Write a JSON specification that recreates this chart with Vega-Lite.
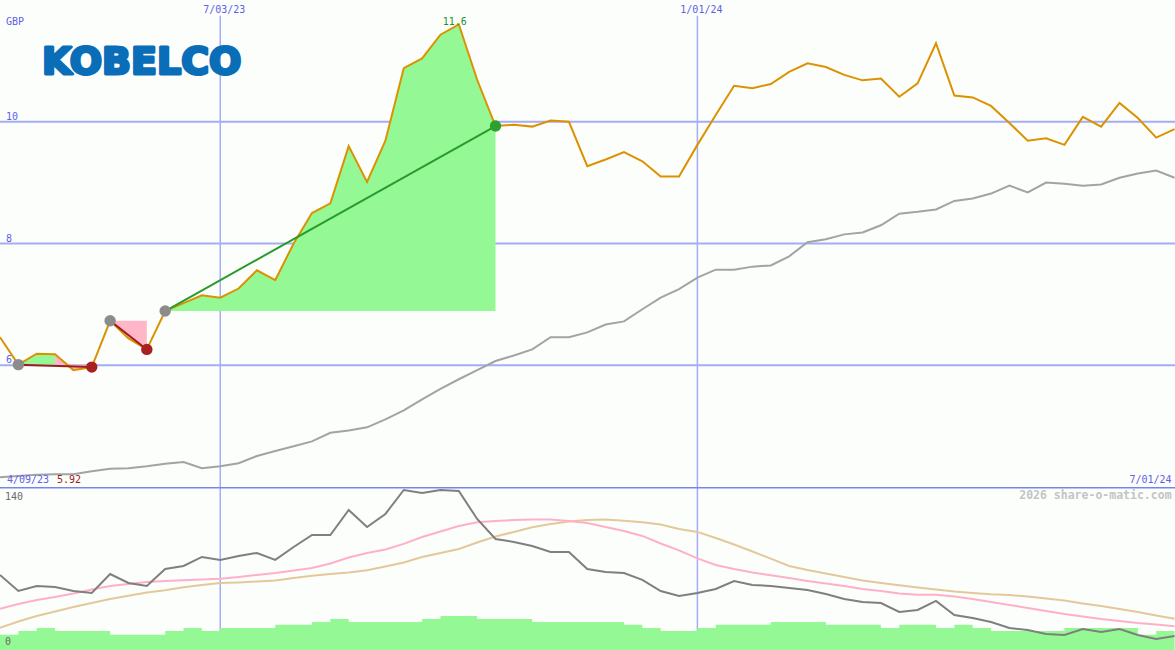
{
  "$schema": "https://vega.github.io/schema/vega-lite/v6.json",
  "background": "#fcfefc",
  "padding": 0,
  "spacing": 0,
  "config": {"view": {"stroke": null}, "text": {"font": "DejaVu Sans Mono", "fontSize": 10}},
  "datasets": {
    "weekly": [
      {"d":"2023-04-10","price":6.46,"ma":4.16,"osc":65.6,"pk":36.1,"tn":19.5,"vol":13.4},
      {"d":"2023-04-17","price":6.01,"ma":4.18,"osc":51.6,"pk":40.3,"tn":24.9,"vol":16.6},
      {"d":"2023-04-24","price":6.19,"ma":4.20,"osc":56.0,"pk":43.8,"tn":29.8,"vol":19.3},
      {"d":"2023-05-01","price":6.18,"ma":4.21,"osc":55.1,"pk":46.4,"tn":33.7,"vol":16.6},
      {"d":"2023-05-08","price":5.92,"ma":4.21,"osc":51.6,"pk":49.4,"tn":37.6,"vol":16.6},
      {"d":"2023-05-15","price":5.97,"ma":4.26,"osc":49.9,"pk":52.9,"tn":41.1,"vol":16.6},
      {"d":"2023-05-22","price":6.73,"ma":4.30,"osc":66.5,"pk":56.0,"tn":44.6,"vol":13.4},
      {"d":"2023-05-29","price":6.44,"ma":4.31,"osc":58.6,"pk":57.8,"tn":47.5,"vol":13.4},
      {"d":"2023-06-05","price":6.26,"ma":4.34,"osc":56.0,"pk":59.5,"tn":50.3,"vol":13.4},
      {"d":"2023-06-12","price":6.89,"ma":4.38,"osc":70.9,"pk":60.4,"tn":52.2,"vol":16.6},
      {"d":"2023-06-19","price":7.02,"ma":4.41,"osc":73.5,"pk":61.0,"tn":54.9,"vol":19.3},
      {"d":"2023-06-26","price":7.15,"ma":4.31,"osc":81.4,"pk":61.7,"tn":56.9,"vol":16.6},
      {"d":"2023-07-03","price":7.11,"ma":4.34,"osc":78.8,"pk":62.4,"tn":58.6,"vol":19.3},
      {"d":"2023-07-10","price":7.26,"ma":4.39,"osc":82.3,"pk":63.9,"tn":59.1,"vol":19.3},
      {"d":"2023-07-17","price":7.56,"ma":4.51,"osc":84.9,"pk":65.6,"tn":59.9,"vol":19.3},
      {"d":"2023-07-24","price":7.40,"ma":4.59,"osc":78.8,"pk":67.4,"tn":60.8,"vol":22.1},
      {"d":"2023-07-31","price":8.00,"ma":4.67,"osc":90.1,"pk":69.6,"tn":63.0,"vol":22.1},
      {"d":"2023-08-07","price":8.50,"ma":4.75,"osc":100.6,"pk":71.8,"tn":64.9,"vol":24.5},
      {"d":"2023-08-14","price":8.66,"ma":4.89,"osc":100.6,"pk":75.7,"tn":66.5,"vol":27.1},
      {"d":"2023-08-21","price":9.60,"ma":4.93,"osc":122.5,"pk":80.9,"tn":67.8,"vol":24.5},
      {"d":"2023-08-28","price":9.01,"ma":4.98,"osc":107.6,"pk":84.9,"tn":69.7,"vol":24.5},
      {"d":"2023-09-04","price":9.69,"ma":5.11,"osc":119.0,"pk":87.9,"tn":73.1,"vol":24.5},
      {"d":"2023-09-11","price":10.88,"ma":5.26,"osc":140.0,"pk":92.8,"tn":76.6,"vol":24.5},
      {"d":"2023-09-18","price":11.04,"ma":5.44,"osc":137.4,"pk":98.9,"tn":81.4,"vol":27.1},
      {"d":"2023-09-25","price":11.43,"ma":5.61,"osc":140.0,"pk":103.7,"tn":84.9,"vol":29.8},
      {"d":"2023-10-02","price":11.60,"ma":5.77,"osc":139.1,"pk":108.5,"tn":88.4,"vol":29.8},
      {"d":"2023-10-09","price":10.69,"ma":5.92,"osc":114.6,"pk":111.7,"tn":94.1,"vol":27.1},
      {"d":"2023-10-16","price":9.93,"ma":6.07,"osc":97.1,"pk":112.9,"tn":99.3,"vol":27.1},
      {"d":"2023-10-23","price":9.95,"ma":6.16,"osc":94.5,"pk":113.8,"tn":103.3,"vol":27.1},
      {"d":"2023-10-30","price":9.92,"ma":6.26,"osc":91.0,"pk":114.2,"tn":107.4,"vol":24.5},
      {"d":"2023-11-06","price":10.02,"ma":6.46,"osc":85.8,"pk":114.2,"tn":110.3,"vol":24.5},
      {"d":"2023-11-13","price":10.00,"ma":6.46,"osc":85.8,"pk":112.9,"tn":112.4,"vol":24.5},
      {"d":"2023-11-20","price":9.27,"ma":6.54,"osc":70.9,"pk":111.1,"tn":113.8,"vol":24.5},
      {"d":"2023-11-27","price":9.38,"ma":6.67,"osc":68.3,"pk":107.6,"tn":114.2,"vol":24.5},
      {"d":"2023-12-04","price":9.50,"ma":6.72,"osc":67.4,"pk":104.1,"tn":113.1,"vol":22.1},
      {"d":"2023-12-11","price":9.35,"ma":6.92,"osc":61.3,"pk":99.8,"tn":111.7,"vol":19.3},
      {"d":"2023-12-18","price":9.10,"ma":7.11,"osc":51.6,"pk":93.2,"tn":109.8,"vol":16.6},
      {"d":"2023-12-25","price":9.10,"ma":7.25,"osc":47.3,"pk":87.1,"tn":105.9,"vol":16.6},
      {"d":"2024-01-01","price":9.62,"ma":7.44,"osc":49.9,"pk":80.1,"tn":103.3,"vol":19.3},
      {"d":"2024-01-08","price":10.11,"ma":7.57,"osc":53.4,"pk":74.4,"tn":98.0,"vol":22.1},
      {"d":"2024-01-15","price":10.59,"ma":7.57,"osc":60.4,"pk":70.9,"tn":92.3,"vol":22.1},
      {"d":"2024-01-22","price":10.55,"ma":7.62,"osc":56.9,"pk":67.8,"tn":86.2,"vol":22.1},
      {"d":"2024-01-29","price":10.62,"ma":7.64,"osc":56.0,"pk":65.4,"tn":79.9,"vol":24.5},
      {"d":"2024-02-05","price":10.82,"ma":7.79,"osc":54.3,"pk":63.0,"tn":73.5,"vol":24.5},
      {"d":"2024-02-12","price":10.96,"ma":8.02,"osc":52.5,"pk":60.4,"tn":70.0,"vol":24.5},
      {"d":"2024-02-19","price":10.90,"ma":8.07,"osc":49.0,"pk":58.2,"tn":66.9,"vol":22.1},
      {"d":"2024-02-26","price":10.77,"ma":8.15,"osc":44.6,"pk":56.0,"tn":63.9,"vol":22.1},
      {"d":"2024-03-04","price":10.68,"ma":8.18,"osc":42.0,"pk":53.4,"tn":60.8,"vol":22.1},
      {"d":"2024-03-11","price":10.71,"ma":8.30,"osc":41.1,"pk":51.6,"tn":58.6,"vol":19.3},
      {"d":"2024-03-18","price":10.41,"ma":8.49,"osc":33.3,"pk":49.4,"tn":56.6,"vol":22.1},
      {"d":"2024-03-25","price":10.63,"ma":8.52,"osc":35.0,"pk":48.4,"tn":54.7,"vol":22.1},
      {"d":"2024-04-01","price":11.29,"ma":8.56,"osc":42.9,"pk":48.4,"tn":52.9,"vol":19.3},
      {"d":"2024-04-08","price":10.43,"ma":8.70,"osc":30.6,"pk":46.8,"tn":51.2,"vol":22.1},
      {"d":"2024-04-15","price":10.40,"ma":8.74,"osc":28.0,"pk":44.6,"tn":49.9,"vol":19.3},
      {"d":"2024-04-22","price":10.26,"ma":8.82,"osc":24.5,"pk":42.0,"tn":48.7,"vol":16.6},
      {"d":"2024-04-29","price":9.98,"ma":8.95,"osc":19.3,"pk":39.4,"tn":48.1,"vol":16.6},
      {"d":"2024-05-06","price":9.69,"ma":8.84,"osc":17.5,"pk":36.8,"tn":46.8,"vol":16.6},
      {"d":"2024-05-13","price":9.73,"ma":9.00,"osc":14.0,"pk":34.1,"tn":45.1,"vol":16.6},
      {"d":"2024-05-20","price":9.62,"ma":8.98,"osc":13.1,"pk":31.5,"tn":43.3,"vol":19.3},
      {"d":"2024-05-27","price":10.08,"ma":8.95,"osc":18.4,"pk":29.3,"tn":40.7,"vol":19.3},
      {"d":"2024-06-03","price":9.92,"ma":8.97,"osc":15.8,"pk":27.1,"tn":38.5,"vol":19.3},
      {"d":"2024-06-10","price":10.31,"ma":9.08,"osc":18.4,"pk":25.4,"tn":35.9,"vol":19.3},
      {"d":"2024-06-17","price":10.06,"ma":9.15,"osc":13.1,"pk":23.6,"tn":33.3,"vol":13.4},
      {"d":"2024-06-24","price":9.74,"ma":9.20,"osc":9.6,"pk":22.3,"tn":30.2,"vol":16.6},
      {"d":"2024-07-01","price":9.88,"ma":9.08,"osc":12.3,"pk":20.7,"tn":27.4,"vol":16.6}
    ],
    "fills": [
      {"d":"2023-04-17","p":6.01,"base":6.01,"seg":"a","kind":"up"},
      {"d":"2023-04-24","p":6.19,"base":6.01,"seg":"a","kind":"up"},
      {"d":"2023-05-01","p":6.18,"base":6.01,"seg":"a","kind":"up"},
      {"d":"2023-05-01","p":6.18,"base":6.01,"seg":"b","kind":"down"},
      {"d":"2023-05-08","p":5.92,"base":6.01,"seg":"b","kind":"down"},
      {"d":"2023-05-15","p":5.97,"base":6.01,"seg":"b","kind":"down"},
      {"d":"2023-05-22","p":6.73,"base":6.73,"seg":"c","kind":"down"},
      {"d":"2023-05-29","p":6.44,"base":6.73,"seg":"c","kind":"down"},
      {"d":"2023-06-05","p":6.26,"base":6.73,"seg":"c","kind":"down"},
      {"d":"2023-06-12","p":6.89,"base":6.89,"seg":"d","kind":"up"},
      {"d":"2023-06-19","p":7.02,"base":6.89,"seg":"d","kind":"up"},
      {"d":"2023-06-26","p":7.15,"base":6.89,"seg":"d","kind":"up"},
      {"d":"2023-07-03","p":7.11,"base":6.89,"seg":"d","kind":"up"},
      {"d":"2023-07-10","p":7.26,"base":6.89,"seg":"d","kind":"up"},
      {"d":"2023-07-17","p":7.56,"base":6.89,"seg":"d","kind":"up"},
      {"d":"2023-07-24","p":7.40,"base":6.89,"seg":"d","kind":"up"},
      {"d":"2023-07-31","p":8.00,"base":6.89,"seg":"d","kind":"up"},
      {"d":"2023-08-07","p":8.50,"base":6.89,"seg":"d","kind":"up"},
      {"d":"2023-08-14","p":8.66,"base":6.89,"seg":"d","kind":"up"},
      {"d":"2023-08-21","p":9.60,"base":6.89,"seg":"d","kind":"up"},
      {"d":"2023-08-28","p":9.01,"base":6.89,"seg":"d","kind":"up"},
      {"d":"2023-09-04","p":9.69,"base":6.89,"seg":"d","kind":"up"},
      {"d":"2023-09-11","p":10.88,"base":6.89,"seg":"d","kind":"up"},
      {"d":"2023-09-18","p":11.04,"base":6.89,"seg":"d","kind":"up"},
      {"d":"2023-09-25","p":11.43,"base":6.89,"seg":"d","kind":"up"},
      {"d":"2023-10-02","p":11.60,"base":6.89,"seg":"d","kind":"up"},
      {"d":"2023-10-09","p":10.69,"base":6.89,"seg":"d","kind":"up"},
      {"d":"2023-10-16","p":9.93,"base":6.89,"seg":"d","kind":"up"}
    ],
    "trends": [
      {"d1":"2023-04-17","p1":6.01,"d2":"2023-05-15","p2":5.97,"kind":"down"},
      {"d1":"2023-05-22","p1":6.73,"d2":"2023-06-05","p2":6.26,"kind":"down"},
      {"d1":"2023-06-12","p1":6.89,"d2":"2023-10-16","p2":9.93,"kind":"up"}
    ],
    "markers": [
      {"d":"2023-04-17","p":6.01,"kind":"start"},
      {"d":"2023-05-22","p":6.73,"kind":"start"},
      {"d":"2023-06-12","p":6.89,"kind":"start"},
      {"d":"2023-05-15","p":5.97,"kind":"down"},
      {"d":"2023-06-05","p":6.26,"kind":"down"},
      {"d":"2023-10-16","p":9.93,"kind":"up"}
    ],
    "gridDates": [{"d":"2023-07-03"},{"d":"2024-01-01"}]
  },
  "vconcat": [
    {
      "width": 1175,
      "height": 487,
      "resolve": {"scale": {"color": "independent"}},
      "layer": [
        {
          "data": {"values": [{"p":6},{"p":8},{"p":10}]},
          "mark": {"type":"rule","color":"#a4adf4","strokeWidth":2,"clip":true},
          "encoding": {"y": {"field":"p","type":"quantitative","scale":{"domain":[4,12],"nice":false,"zero":false},"axis":null}}
        },
        {
          "data": {"name": "gridDates"},
          "mark": {"type":"rule","color":"#a4adf4","strokeWidth":1.5,"clip":true},
          "encoding": {
            "x": {"field":"d","type":"temporal","scale":{"type":"utc","domain":[{"year":2023,"month":4,"date":10,"utc":true},{"year":2024,"month":7,"date":1,"hours":4,"utc":true}]},"axis":null},
            "y": {"datum":11.74,"type":"quantitative","scale":{"domain":[4,12],"nice":false,"zero":false},"axis":null},
            "y2": {"datum":4}
          }
        },
        {
          "data": {"values": [{"d":"2023-04-10","p":12,"t":"KOBELCO"}]},
          "mark": {"type":"text","font":"DejaVu Sans","fontWeight":"bold","fontSize":38,"color":"#0a6db8","stroke":"#0a6db8","strokeWidth":3,"strokeJoin":"round","align":"left","baseline":"alphabetic","dx":42,"dy":74},
          "encoding": {
            "x": {"field":"d","type":"temporal","scale":{"type":"utc","domain":[{"year":2023,"month":4,"date":10,"utc":true},{"year":2024,"month":7,"date":1,"hours":4,"utc":true}]},"axis":null},
            "y": {"field":"p","type":"quantitative","scale":{"domain":[4,12],"nice":false,"zero":false},"axis":null},
            "text": {"field":"t"}
          }
        },
        {
          "data": {"name": "fills"},
          "mark": {"type":"area","opacity":1,"clip":true},
          "encoding": {
            "x": {"field":"d","type":"temporal","scale":{"type":"utc","domain":[{"year":2023,"month":4,"date":10,"utc":true},{"year":2024,"month":7,"date":1,"hours":4,"utc":true}]},"axis":null},
            "y": {"field":"p","type":"quantitative","scale":{"domain":[4,12],"nice":false,"zero":false},"axis":null},
            "y2": {"field":"base"},
            "detail": {"field":"seg"},
            "color": {"field":"kind","type":"nominal","scale":{"domain":["up","down"],"range":["#94f994","#ffb6c8"]},"legend":null}
          }
        },
        {
          "data": {"name": "weekly"},
          "mark": {"type":"line","color":"#a3a3a3","strokeWidth":2,"clip":true},
          "encoding": {
            "x": {"field":"d","type":"temporal","scale":{"type":"utc","domain":[{"year":2023,"month":4,"date":10,"utc":true},{"year":2024,"month":7,"date":1,"hours":4,"utc":true}]},"axis":null},
            "y": {"field":"ma","type":"quantitative","scale":{"domain":[4,12],"nice":false,"zero":false},"axis":null}
          }
        },
        {
          "data": {"name": "weekly"},
          "mark": {"type":"line","color":"#dc9200","strokeWidth":2,"clip":true},
          "encoding": {
            "x": {"field":"d","type":"temporal","scale":{"type":"utc","domain":[{"year":2023,"month":4,"date":10,"utc":true},{"year":2024,"month":7,"date":1,"hours":4,"utc":true}]},"axis":null},
            "y": {"field":"price","type":"quantitative","scale":{"domain":[4,12],"nice":false,"zero":false},"axis":null}
          }
        },
        {
          "data": {"name": "trends"},
          "mark": {"type":"rule","strokeWidth":2,"clip":true},
          "encoding": {
            "x": {"field":"d1","type":"temporal","scale":{"type":"utc","domain":[{"year":2023,"month":4,"date":10,"utc":true},{"year":2024,"month":7,"date":1,"hours":4,"utc":true}]},"axis":null},
            "x2": {"field":"d2"},
            "y": {"field":"p1","type":"quantitative","scale":{"domain":[4,12],"nice":false,"zero":false},"axis":null},
            "y2": {"field":"p2"},
            "color": {"field":"kind","type":"nominal","scale":{"domain":["up","down"],"range":["#2a9a2a","#a01c1c"]},"legend":null}
          }
        },
        {
          "data": {"name": "markers"},
          "mark": {"type":"point","filled":true,"size":130,"opacity":1},
          "encoding": {
            "x": {"field":"d","type":"temporal","scale":{"type":"utc","domain":[{"year":2023,"month":4,"date":10,"utc":true},{"year":2024,"month":7,"date":1,"hours":4,"utc":true}]},"axis":null},
            "y": {"field":"p","type":"quantitative","scale":{"domain":[4,12],"nice":false,"zero":false},"axis":null},
            "color": {"field":"kind","type":"nominal","scale":{"domain":["start","up","down"],"range":["#8c8c8c","#2ea02e","#a82020"]},"legend":null}
          }
        },
        {
          "data": {"values": [{"d":"2023-10-02","p":11.6,"t":"11.6"}]},
          "mark": {"type":"text","color":"#22922a","align":"center","baseline":"alphabetic","dx":-4,"dy":1},
          "encoding": {
            "x": {"field":"d","type":"temporal","scale":{"type":"utc","domain":[{"year":2023,"month":4,"date":10,"utc":true},{"year":2024,"month":7,"date":1,"hours":4,"utc":true}]},"axis":null},
            "y": {"field":"p","type":"quantitative","scale":{"domain":[4,12],"nice":false,"zero":false},"axis":null},
            "text": {"field":"t"}
          }
        },
        {
          "data": {"values": [{"d":"2023-04-10","p":10,"t":"10"},{"d":"2023-04-10","p":8,"t":"8"},{"d":"2023-04-10","p":6,"t":"6"}]},
          "mark": {"type":"text","color":"#6060e8","align":"left","baseline":"alphabetic","dx":6,"dy":-2},
          "encoding": {
            "x": {"field":"d","type":"temporal","scale":{"type":"utc","domain":[{"year":2023,"month":4,"date":10,"utc":true},{"year":2024,"month":7,"date":1,"hours":4,"utc":true}]},"axis":null},
            "y": {"field":"p","type":"quantitative","scale":{"domain":[4,12],"nice":false,"zero":false},"axis":null},
            "text": {"field":"t"}
          }
        },
        {
          "data": {"values": [{"d":"2023-04-10","p":12,"t":"GBP"}]},
          "mark": {"type":"text","color":"#6060e8","align":"left","baseline":"alphabetic","dx":6,"dy":25},
          "encoding": {
            "x": {"field":"d","type":"temporal","scale":{"type":"utc","domain":[{"year":2023,"month":4,"date":10,"utc":true},{"year":2024,"month":7,"date":1,"hours":4,"utc":true}]},"axis":null},
            "y": {"field":"p","type":"quantitative","scale":{"domain":[4,12],"nice":false,"zero":false},"axis":null},
            "text": {"field":"t"}
          }
        },
        {
          "data": {"values": [{"d":"2023-07-03","p":12,"t":"7/03/23"},{"d":"2024-01-01","p":12,"t":"1/01/24"}]},
          "mark": {"type":"text","color":"#6060e8","align":"center","baseline":"alphabetic","dx":4,"dy":13},
          "encoding": {
            "x": {"field":"d","type":"temporal","scale":{"type":"utc","domain":[{"year":2023,"month":4,"date":10,"utc":true},{"year":2024,"month":7,"date":1,"hours":4,"utc":true}]},"axis":null},
            "y": {"field":"p","type":"quantitative","scale":{"domain":[4,12],"nice":false,"zero":false},"axis":null},
            "text": {"field":"t"}
          }
        },
        {
          "data": {"values": [{"d":"2023-04-10","p":4,"t":"4/09/23"}]},
          "mark": {"type":"text","color":"#6060e8","align":"left","baseline":"alphabetic","dx":7,"dy":-4},
          "encoding": {
            "x": {"field":"d","type":"temporal","scale":{"type":"utc","domain":[{"year":2023,"month":4,"date":10,"utc":true},{"year":2024,"month":7,"date":1,"hours":4,"utc":true}]},"axis":null},
            "y": {"field":"p","type":"quantitative","scale":{"domain":[4,12],"nice":false,"zero":false},"axis":null},
            "text": {"field":"t"}
          }
        },
        {
          "data": {"values": [{"d":"2023-04-10","p":4,"t":"5.92"}]},
          "mark": {"type":"text","color":"#a02020","align":"left","baseline":"alphabetic","dx":57,"dy":-4},
          "encoding": {
            "x": {"field":"d","type":"temporal","scale":{"type":"utc","domain":[{"year":2023,"month":4,"date":10,"utc":true},{"year":2024,"month":7,"date":1,"hours":4,"utc":true}]},"axis":null},
            "y": {"field":"p","type":"quantitative","scale":{"domain":[4,12],"nice":false,"zero":false},"axis":null},
            "text": {"field":"t"}
          }
        },
        {
          "data": {"values": [{"d":"2024-07-01","p":4,"t":"7/01/24"}]},
          "mark": {"type":"text","color":"#6060e8","align":"right","baseline":"alphabetic","dx":-3,"dy":-4},
          "encoding": {
            "x": {"field":"d","type":"temporal","scale":{"type":"utc","domain":[{"year":2023,"month":4,"date":10,"utc":true},{"year":2024,"month":7,"date":1,"hours":4,"utc":true}]},"axis":null},
            "y": {"field":"p","type":"quantitative","scale":{"domain":[4,12],"nice":false,"zero":false},"axis":null},
            "text": {"field":"t"}
          }
        }
      ]
    },
    {
      "width": 1175,
      "height": 163,
      "layer": [
        {
          "data": {"name": "gridDates"},
          "mark": {"type":"rule","color":"#a4adf4","strokeWidth":1.5,"clip":true},
          "encoding": {
            "x": {"field":"d","type":"temporal","scale":{"type":"utc","domain":[{"year":2023,"month":4,"date":10,"utc":true},{"year":2024,"month":7,"date":1,"hours":4,"utc":true}]},"axis":null}
          }
        },
        {
          "data": {"name": "weekly"},
          "mark": {"type":"area","interpolate":"step-after","color":"#94f994","opacity":1,"clip":true},
          "encoding": {
            "x": {"field":"d","type":"temporal","scale":{"type":"utc","domain":[{"year":2023,"month":4,"date":10,"utc":true},{"year":2024,"month":7,"date":1,"hours":4,"utc":true}]},"axis":null},
            "y": {"field":"vol","type":"quantitative","scale":{"domain":[0,142.6],"nice":false},"axis":null}
          }
        },
        {
          "data": {"name": "weekly"},
          "mark": {"type":"line","color":"#e3c99a","strokeWidth":2,"clip":true},
          "encoding": {
            "x": {"field":"d","type":"temporal","scale":{"type":"utc","domain":[{"year":2023,"month":4,"date":10,"utc":true},{"year":2024,"month":7,"date":1,"hours":4,"utc":true}]},"axis":null},
            "y": {"field":"tn","type":"quantitative","scale":{"domain":[0,142.6],"nice":false},"axis":null}
          }
        },
        {
          "data": {"name": "weekly"},
          "mark": {"type":"line","color":"#ffb0c8","strokeWidth":2,"clip":true},
          "encoding": {
            "x": {"field":"d","type":"temporal","scale":{"type":"utc","domain":[{"year":2023,"month":4,"date":10,"utc":true},{"year":2024,"month":7,"date":1,"hours":4,"utc":true}]},"axis":null},
            "y": {"field":"pk","type":"quantitative","scale":{"domain":[0,142.6],"nice":false},"axis":null}
          }
        },
        {
          "data": {"name": "weekly"},
          "mark": {"type":"line","color":"#7f7f7f","strokeWidth":2,"clip":true},
          "encoding": {
            "x": {"field":"d","type":"temporal","scale":{"type":"utc","domain":[{"year":2023,"month":4,"date":10,"utc":true},{"year":2024,"month":7,"date":1,"hours":4,"utc":true}]},"axis":null},
            "y": {"field":"osc","type":"quantitative","scale":{"domain":[0,142.6],"nice":false},"axis":null}
          }
        },
        {
          "data": {"values": [{"v":142.2}]},
          "mark": {"type":"rule","color":"#7585ee","strokeWidth":2,"clip":true},
          "encoding": {
            "y": {"field":"v","type":"quantitative","scale":{"domain":[0,142.6],"nice":false},"axis":null}
          }
        },
        {
          "data": {"values": [{"d":"2023-04-10","v":142.6,"t":"140"}]},
          "mark": {"type":"text","color":"#6a6a6a","align":"left","baseline":"alphabetic","dx":5,"dy":13},
          "encoding": {
            "x": {"field":"d","type":"temporal","scale":{"type":"utc","domain":[{"year":2023,"month":4,"date":10,"utc":true},{"year":2024,"month":7,"date":1,"hours":4,"utc":true}]},"axis":null},
            "y": {"field":"v","type":"quantitative","scale":{"domain":[0,142.6],"nice":false},"axis":null},
            "text": {"field":"t"}
          }
        },
        {
          "data": {"values": [{"d":"2023-04-10","v":0,"t":"0"}]},
          "mark": {"type":"text","color":"#6a6a6a","align":"left","baseline":"alphabetic","dx":5,"dy":-5},
          "encoding": {
            "x": {"field":"d","type":"temporal","scale":{"type":"utc","domain":[{"year":2023,"month":4,"date":10,"utc":true},{"year":2024,"month":7,"date":1,"hours":4,"utc":true}]},"axis":null},
            "y": {"field":"v","type":"quantitative","scale":{"domain":[0,142.6],"nice":false},"axis":null},
            "text": {"field":"t"}
          }
        },
        {
          "data": {"values": [{"d":"2024-07-01","v":142.6,"t":"2026 share-o-matic.com"}]},
          "mark": {"type":"text","color":"#c4c4c4","fontWeight":"bold","fontSize":11.5,"align":"right","baseline":"alphabetic","dx":-3,"dy":12},
          "encoding": {
            "x": {"field":"d","type":"temporal","scale":{"type":"utc","domain":[{"year":2023,"month":4,"date":10,"utc":true},{"year":2024,"month":7,"date":1,"hours":4,"utc":true}]},"axis":null},
            "y": {"field":"v","type":"quantitative","scale":{"domain":[0,142.6],"nice":false},"axis":null},
            "text": {"field":"t"}
          }
        }
      ]
    }
  ]
}
